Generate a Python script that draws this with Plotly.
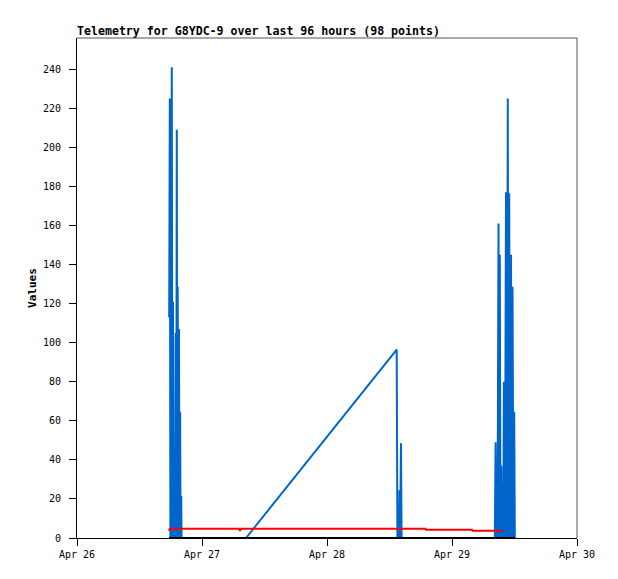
import pandas as pd
import plotly.graph_objects as go

# hours after Apr 26 00:00 for each reading, plus the value
start = pd.Timestamp("2024-04-26 00:00")

blue_hours = [17.70, 17.82, 17.93, 18.09, 18.20, 18.32, 18.43, 18.55, 18.85, 18.95,
              19.05, 19.16, 19.26, 19.33, 19.45, 19.58, 19.68, 19.80, 19.89, 20.01,
              20.08, 32.45, 61.38, 61.52, 61.82, 61.92, 62.04, 62.21, 62.32, 80.22,
              80.37, 80.51, 80.64, 80.74, 80.93, 81.06, 81.18, 81.31, 81.47, 81.58,
              81.85, 81.96, 82.16, 82.37, 82.54, 82.71, 82.85, 82.98, 83.16, 83.33,
              83.48, 83.62, 83.79, 83.94, 84.06]
blue_values = [113, 225, 0, 121, 241, 0, 121, 0, 0, 105,
               0, 209, 0, 128.6, 0, 107, 0, 64.7, 0, 21.5,
               0, 0, 96.5, 0, 0, 24.5, 0, 48.5, 0, 0,
               49, 0, 24, 0, 161, 0, 145, 0, 37, 0,
               0, 80, 0, 177, 0, 225, 0, 176.5, 0, 145,
               0, 128.6, 0, 64.6, 0]

red_hours = [17.66, 17.80, 31.10, 31.30, 31.50, 66.91, 67.01, 75.84, 75.97, 81.73]
red_values = [3.7, 4.8, 4.8, 3.7, 4.8, 4.8, 4.25, 4.25, 3.7, 3.7]

black_hours = [17.66, 32.45, 61.38, 84.06]
black_values = [0, 0, 0, 0]

x_ticks = ["2024-04-26", "2024-04-27", "2024-04-28", "2024-04-29", "2024-04-30"]
y_ticks = list(range(0, 241, 20))


def to_time(hours):
    return [start + pd.Timedelta(hours=h) for h in hours]


fig = go.Figure()
fig.add_trace(go.Scatter(x=to_time(blue_hours), y=blue_values, mode="lines",
                         line=dict(color="#0066CC", width=2)))
fig.add_trace(go.Scatter(x=to_time(red_hours), y=red_values, mode="lines",
                         line=dict(color="#FF0000", width=2)))
fig.add_trace(go.Scatter(x=to_time(black_hours), y=black_values, mode="lines",
                         line=dict(color="#000000", width=2)))

# page body has an 8px margin, so the figure is 8px smaller than the window
fig.update_layout(
    width=610,
    height=571,
    margin=dict(l=69, r=41, t=30, b=41),
    plot_bgcolor="white",
    paper_bgcolor="white",
    showlegend=False,
    font=dict(family="DejaVu Sans Mono", size=10, color="black"),
    title=dict(
        text="<b>Telemetry for G8YDC-9 over last 96 hours (98 points)</b>",
        font=dict(family="DejaVu Sans Mono", size=11.6, color="black"),
        x=0, xref="paper", xanchor="left",
        y=1 - 23 / 571, yref="container", yanchor="middle",
    ),
    shapes=[
        dict(type="line", xref="paper", yref="paper", x0=0, x1=1, y0=1, y1=1,
             line=dict(color="#555555", width=1)),
        dict(type="line", xref="paper", yref="paper", x0=1, x1=1, y0=0, y1=1,
             line=dict(color="#555555", width=1)),
    ],
)
fig.update_xaxes(
    range=[x_ticks[0], x_ticks[-1]],
    tickvals=x_ticks,
    tickformat="%b %d",
    showgrid=False, zeroline=False,
    showline=True, linecolor="black", linewidth=1,
    ticks="outside", ticklen=7, tickcolor="black",
)
fig.update_yaxes(
    range=[0, 256],
    tickvals=y_ticks,
    showgrid=False, zeroline=False,
    showline=True, linecolor="black", linewidth=1,
    ticks="outside", ticklen=7, tickcolor="black",
    ticklabelstandoff=6,
    title=dict(text="<b>Values</b>", font=dict(family="DejaVu Sans Mono", size=11), standoff=4),
)

fig.write_html("out.html")
